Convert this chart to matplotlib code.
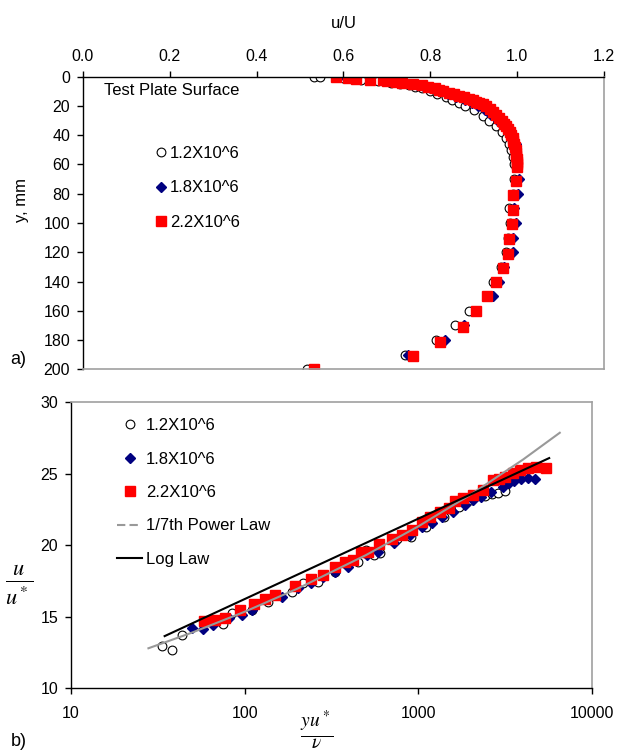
import matplotlib
matplotlib.use("Agg")
import matplotlib.pyplot as plt
from matplotlib.lines import Line2D

plt.rcParams['font.family'] = ['Liberation Sans', 'DejaVu Sans']
plt.rcParams['mathtext.fontset'] = 'stix'

# a) velocity profile, y in mm, u/U
y_12 = [0.5, 0.5, 1, 2, 3, 4, 5, 6, 7, 8, 10, 12, 14, 16, 18, 20, 23, 27, 30, 34, 38, 42, 46, 50, 55, 60,
        70, 80, 90, 100, 110, 120, 130, 140, 150, 160, 170, 180, 190, 200]
u_12 = [0.533, 0.545, 0.60, 0.64, 0.68, 0.71, 0.73, 0.75, 0.765, 0.78, 0.80, 0.815, 0.835, 0.85, 0.865, 0.88,
        0.90, 0.921, 0.935, 0.951, 0.965, 0.975, 0.982, 0.985, 0.989, 0.993,
        0.993, 0.99, 0.980, 0.983, 0.978, 0.975, 0.962, 0.944, 0.940, 0.890, 0.856, 0.812, 0.742, 0.517]

y_18 = [0.5, 1, 2, 3, 4, 5, 6, 7, 8, 10, 12, 14, 16, 18, 20, 23, 26, 30, 34, 38, 42, 46, 50, 55, 60,
        70, 80, 90, 100, 110, 120, 130, 140, 150, 160, 170, 180, 190, 200]
u_18 = [0.59, 0.62, 0.66, 0.70, 0.725, 0.75, 0.77, 0.785, 0.80, 0.82, 0.84, 0.86, 0.88, 0.895, 0.91, 0.925,
        0.94, 0.955, 0.968, 0.978, 0.99, 0.997, 0.998, 1.0, 1.0,
        1.003, 1.001, 0.992, 0.996, 0.991, 0.989, 0.97, 0.958, 0.944, 0.905, 0.877, 0.833, 0.749, 0.533]

y_22 = [0.5, 1, 1.5, 2, 2.5, 3, 3.5, 4, 5, 6, 7, 8, 9, 10, 11, 12, 13, 14, 15, 16, 17, 18, 19, 20,
        22, 24, 26, 28, 30, 32, 34, 36, 38, 40, 42, 44, 46, 48, 50, 52, 54, 56, 58, 60, 62,
        71, 81, 91, 101, 111, 121, 131, 140, 150, 160, 171, 181, 191, 200]
u_22 = [0.584, 0.61, 0.63, 0.66, 0.69, 0.70, 0.72, 0.735, 0.76, 0.78, 0.795, 0.81, 0.82, 0.83, 0.843,
        0.855, 0.866, 0.877, 0.888, 0.897, 0.906, 0.913, 0.92, 0.927,
        0.937, 0.945, 0.952, 0.959, 0.965, 0.970, 0.975, 0.979, 0.983, 0.986, 0.989, 0.991, 0.993, 0.995,
        0.996, 0.997, 0.998, 0.999, 1.0, 1.0, 1.0,
        0.996, 0.990, 0.989, 0.987, 0.982, 0.979, 0.968, 0.950, 0.930, 0.905, 0.876, 0.823, 0.760, 0.533]

# b) wall units
yp_12 = [33.3, 38.5, 43.6, 74.8, 85.2, 110.6, 136.4, 186.6, 216, 266, 330, 449, 498, 553, 604, 757, 908,
         1100, 1400, 1718, 2000, 2414, 2651, 2866, 3131]
up_12 = [12.94, 12.66, 13.76, 14.49, 15.30, 15.47, 16.05, 16.75, 17.38, 17.45, 18.1, 18.86, 19.67, 19.32,
         19.44, 20.42, 20.61, 21.3, 22.0, 22.66, 23.2, 23.46, 23.60, 23.69, 23.81]

yp_18 = [49.8, 57.5, 65.6, 80.9, 97.1, 110.6, 163.6, 201.7, 242, 283, 331, 394, 503, 589, 726, 894, 1045,
         1191, 1358, 1588, 1858, 2061, 2290, 2608, 3050, 3298, 3566, 3899, 4285, 4679]
up_18 = [14.23, 14.18, 14.42, 14.95, 15.12, 15.47, 16.36, 16.99, 17.34, 17.80, 18.15, 18.46, 19.32, 19.56,
         20.14, 20.72, 21.31, 21.54, 22.01, 22.36, 22.83, 23.18, 23.41, 23.76, 24.11, 24.35, 24.53, 24.63,
         24.70, 24.65]

yp_22 = [58.5, 67.3, 76.7, 94.6, 113.6, 130.7, 148.9, 194.4, 239.7, 283.3, 331, 377, 419, 465, 516, 595,
         706, 805, 917, 1045, 1161, 1322, 1507, 1630, 1811, 2061, 2349, 2678, 2897, 3131, 3476, 3862, 4285,
         4755, 5419]
up_22 = [14.72, 14.81, 14.95, 15.51, 15.89, 16.22, 16.52, 17.15, 17.62, 17.92, 18.46, 18.86, 18.97, 19.56,
         19.56, 20.09, 20.42, 20.72, 21.08, 21.66, 21.96, 22.36, 22.59, 23.13, 23.29, 23.53, 23.88, 24.58,
         24.63, 24.81, 25.05, 25.28, 25.40, 25.47, 25.40]

pow_x = [28, 50, 100, 200, 500, 1000, 2000, 4000, 6500]
pow_y = [12.80, 13.90, 15.35, 16.95, 19.32, 21.33, 23.55, 26.00, 27.87]
log_x = [34.7, 5650]
log_y = [13.65, 26.10]

labels = ['1.2X10^6', '1.8X10^6', '2.2X10^6']

W, H = 618, 754
fig = plt.figure(figsize=(W / 100, H / 100), dpi=100)

gray = '#a0a0a0'
navy = '#000080'
ms_o, ms_d, ms_s = 6.3, 5.0, 7.3

ax1 = fig.add_axes([82.7 / W, 1 - 369.3 / H, 521.5 / W, 292.6 / H])
ax1.plot(u_12, y_12, 'o', ms=ms_o, mfc='white', mec='black', mew=0.8, ls='none', label=labels[0])
ax1.plot(u_18, y_18, 'D', ms=ms_d, mfc=navy, mec=navy, ls='none', label=labels[1])
ax1.plot(u_22, y_22, 's', ms=ms_s, mfc='red', mec='red', ls='none', label=labels[2])
ax1.set_xlim(0, 1.2)
ax1.set_ylim(200, 0)
ax1.set_xticks([0, 0.2, 0.4, 0.6, 0.8, 1.0, 1.2])
ax1.set_xticklabels(['0.0', '0.2', '0.4', '0.6', '0.8', '1.0', '1.2'])
ax1.set_yticks(range(0, 201, 20))
ax1.xaxis.tick_top()
ax1.tick_params(axis='both', direction='out', length=4, width=1, labelsize=11.5, pad=5)
for s in ['top', 'left']:
    ax1.spines[s].set_color('black')
    ax1.spines[s].set_linewidth(1.0)
for s in ['bottom', 'right']:
    ax1.spines[s].set_color(gray)
    ax1.spines[s].set_linewidth(1.2)
ax1.legend(loc='upper left', bbox_to_anchor=(155 / W, 1 - 146 / H), bbox_transform=fig.transFigure,
           frameon=False, fontsize=12, handlelength=0.7, handletextpad=0.2, labelspacing=1.16,
           borderpad=0, borderaxespad=0)
fig.text(104.4 / W, 1 - 90.7 / H, 'Test Plate Surface', fontsize=12, ha='left', va='center')
fig.text(343.4 / W, 1 - 23.3 / H, 'u/U', fontsize=12, ha='center', va='center')
fig.text(21.5 / W, 1 - 200 / H, 'y, mm', fontsize=12, ha='center', va='center', rotation=90)
fig.text(18.6 / W, 1 - 360 / H, 'a)', fontsize=13, ha='center', va='center')

ax2 = fig.add_axes([70.7 / W, 1 - 688.3 / H, 521.6 / W, 286 / H])
ax2.plot(yp_12, up_12, 'o', ms=ms_o, mfc='white', mec='black', mew=0.8, ls='none', zorder=3)
ax2.plot(yp_18, up_18, 'D', ms=ms_d, mfc=navy, mec=navy, ls='none', zorder=3)
ax2.plot(yp_22, up_22, 's', ms=ms_s, mfc='red', mec='red', ls='none', zorder=3)
ax2.plot(pow_x, pow_y, '-', color='#999999', lw=1.5, zorder=4)
ax2.plot(log_x, log_y, '-', color='black', lw=1.5, zorder=4)
ax2.set_xscale('log')
ax2.set_xlim(10, 10000)
ax2.set_ylim(10, 30)
ax2.set_xticks([10, 100, 1000, 10000])
ax2.set_xticklabels(['10', '100', '1000', '10000'])
ax2.minorticks_off()
ax2.set_yticks([10, 15, 20, 25, 30])
ax2.tick_params(axis='both', direction='out', length=4, width=1, labelsize=11.5, pad=5)
ax2.tick_params(axis='x', pad=9)
for s in ['bottom', 'left']:
    ax2.spines[s].set_color('black')
    ax2.spines[s].set_linewidth(1.0)
for s in ['top', 'right']:
    ax2.spines[s].set_color(gray)
    ax2.spines[s].set_linewidth(1.2)

handles = [
    Line2D([], [], marker='o', ms=ms_o, mfc='white', mec='black', mew=0.8, ls='none'),
    Line2D([], [], marker='D', ms=ms_d, mfc=navy, mec=navy, ls='none'),
    Line2D([], [], marker='s', ms=ms_s, mfc='red', mec='red', ls='none'),
    Line2D([], [], color='#999999', lw=1.5, ls=(0, (4, 2))),
    Line2D([], [], color='black', lw=1.5),
]
ax2.legend(handles, labels + ['1/7th Power Law', 'Log Law'], loc='upper left',
           bbox_to_anchor=(117 / W, 1 - 418 / H), bbox_transform=fig.transFigure,
           frameon=False, fontsize=12, handlelength=1.5, handletextpad=0.25, labelspacing=1.11,
           borderpad=0, borderaxespad=0)

fig.text(19.4 / W, 1 - 585 / H, r'$\frac{u}{u^*}$', fontsize=23, ha='center', va='center')
fig.text(317 / W, 1 - 730 / H, r'$\frac{yu^*}{\nu}$', fontsize=20, ha='center', va='center')
fig.text(18.4 / W, 1 - 742 / H, 'b)', fontsize=13, ha='center', va='center')

fig.savefig('out.png', dpi=100)
